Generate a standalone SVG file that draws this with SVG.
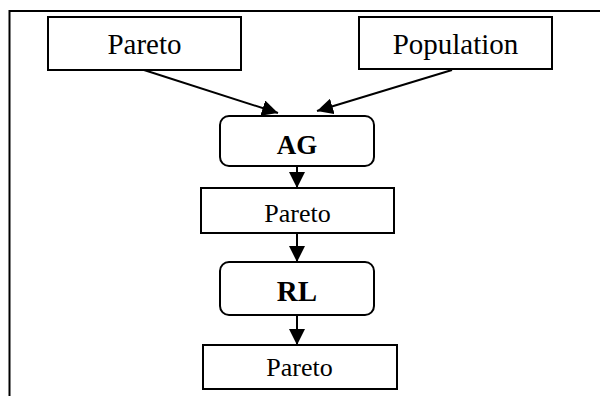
<svg xmlns="http://www.w3.org/2000/svg" width="600" height="396" viewBox="0 0 600 396">
  <defs>
    <marker id="arrow" viewBox="0 0 10 10" refX="10" refY="5" markerWidth="8" markerHeight="8" markerUnits="strokeWidth" orient="auto">
      <path d="M0,0 L10,5 L0,10 Z" fill="#000"/>
    </marker>
    <style>
      .box { fill: #fff; stroke: #000; stroke-width: 2; }
      .lbl { font-family: "Liberation Serif", "Times New Roman", serif; fill: #000; text-anchor: middle; }
      .bold { font-weight: bold; }
      .edge { stroke: #000; stroke-width: 2; fill: none; marker-end: url(#arrow); }
    </style>
  </defs>
  <rect width="600" height="396" fill="#fff"/>

  <!-- outer frame (top and left edges) -->
  <path d="M9.5,396 V11 H600" fill="none" stroke="#000" stroke-width="2"/>

  <g id="connectors">
    <line class="edge" x1="144" y1="70" x2="278" y2="113"/>
    <line class="edge" x1="452" y1="70" x2="317" y2="111"/>
    <line class="edge" x1="297" y1="166" x2="297" y2="188"/>
    <line class="edge" x1="297" y1="233" x2="297" y2="262"/>
    <line class="edge" x1="297" y1="315" x2="297" y2="345"/>
  </g>

  <g id="pareto-in">
    <rect class="box" x="48" y="17" width="193" height="53"/>
    <text class="lbl" x="144.5" y="54" font-size="29">Pareto</text>
  </g>

  <g id="population">
    <rect class="box" x="359" y="17" width="193" height="52"/>
    <text class="lbl" x="455.5" y="54" font-size="29">Population</text>
  </g>

  <g id="ag">
    <rect class="box" x="220" y="116" width="154" height="50" rx="9"/>
    <text class="lbl bold" x="297" y="154" font-size="27">AG</text>
  </g>

  <g id="pareto-ag">
    <rect class="box" x="201" y="188" width="193" height="45"/>
    <text class="lbl" x="297.5" y="222" font-size="26">Pareto</text>
  </g>

  <g id="rl">
    <rect class="box" x="220" y="262" width="154" height="53" rx="9"/>
    <text class="lbl bold" x="297" y="301" font-size="29">RL</text>
  </g>

  <g id="pareto-rl">
    <rect class="box" x="203" y="345" width="194" height="44"/>
    <text class="lbl" x="299.5" y="376" font-size="26">Pareto</text>
  </g>
</svg>
